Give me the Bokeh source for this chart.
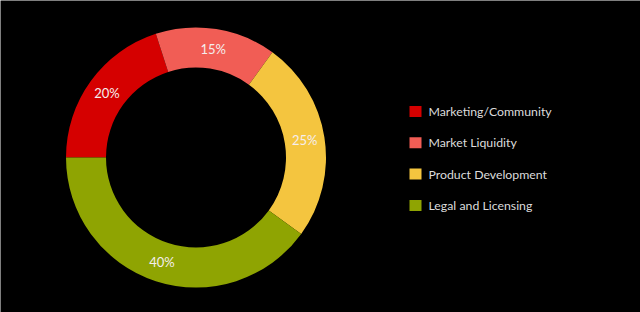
import math
from bokeh.plotting import figure
from bokeh.models import Range1d, ColumnDataSource
from bokeh.core.properties import value
from bokeh.embed import file_html
from bokeh.resources import INLINE

categories = ["Marketing/Community", "Market Liquidity", "Product Development", "Legal and Licensing"]
shares = [20, 15, 25, 40]
colors = ["#d50000", "#f15d55", "#f4c53f", "#8fa402"]

W, H = 640, 312
cx, cy = 195.5, H - 157
r_in, r_out = 90, 130

total = float(sum(shares))
starts, ends, lx, ly, labels = [], [], [], [], []
cum = 0.0
for s in shares:
    f0 = cum / total
    f1 = (cum + s) / total
    cum += s
    # clockwise from 9 o'clock
    a_start = math.pi - 2 * math.pi * f1
    a_end = math.pi - 2 * math.pi * f0
    starts.append(a_start)
    ends.append(a_end)
    mid = (a_start + a_end) / 2
    rm = (r_in + r_out) / 2
    lx.append(cx + rm * math.cos(mid))
    ly.append(cy + rm * math.sin(mid))
    labels.append(f"{s}%")

src = ColumnDataSource(dict(start=starts, end=ends, color=colors, lx=lx, ly=ly, label=labels))

p = figure(width=W, height=H, output_backend="svg", toolbar_location=None,
           x_range=Range1d(0, W), y_range=Range1d(0, H), min_border=0,
           background_fill_color="#000000", border_fill_color="#000000")
p.axis.visible = False
p.grid.visible = False
p.outline_line_color = None

p.annular_wedge(x=cx, y=cy, inner_radius=r_in, outer_radius=r_out,
                start_angle="start", end_angle="end", fill_color="color",
                line_color=None, source=src)
p.text(x="lx", y="ly", text="label", source=src, text_color="#f4eeee",
       text_font=value("Lato"), text_font_size="13px",
       text_align="center", text_baseline="middle")

# legend
leg_x = 415
leg_y0 = H - 111
leg_dy = 31.3
lsrc = ColumnDataSource(dict(
    x=[leg_x] * len(categories),
    y=[leg_y0 - i * leg_dy for i in range(len(categories))],
    tx=[leg_x + 13] * len(categories),
    name=categories, color=colors))
p.rect(x="x", y="y", width=12, height=11, fill_color="color", line_color=None, source=lsrc)
p.text(x="tx", y="y", text="name", source=lsrc, text_color="#dcdcdc",
       text_font=value("Lato"), text_font_size="12.3px",
       text_align="left", text_baseline="middle")

open("out.html", "w").write(file_html(p, INLINE))
